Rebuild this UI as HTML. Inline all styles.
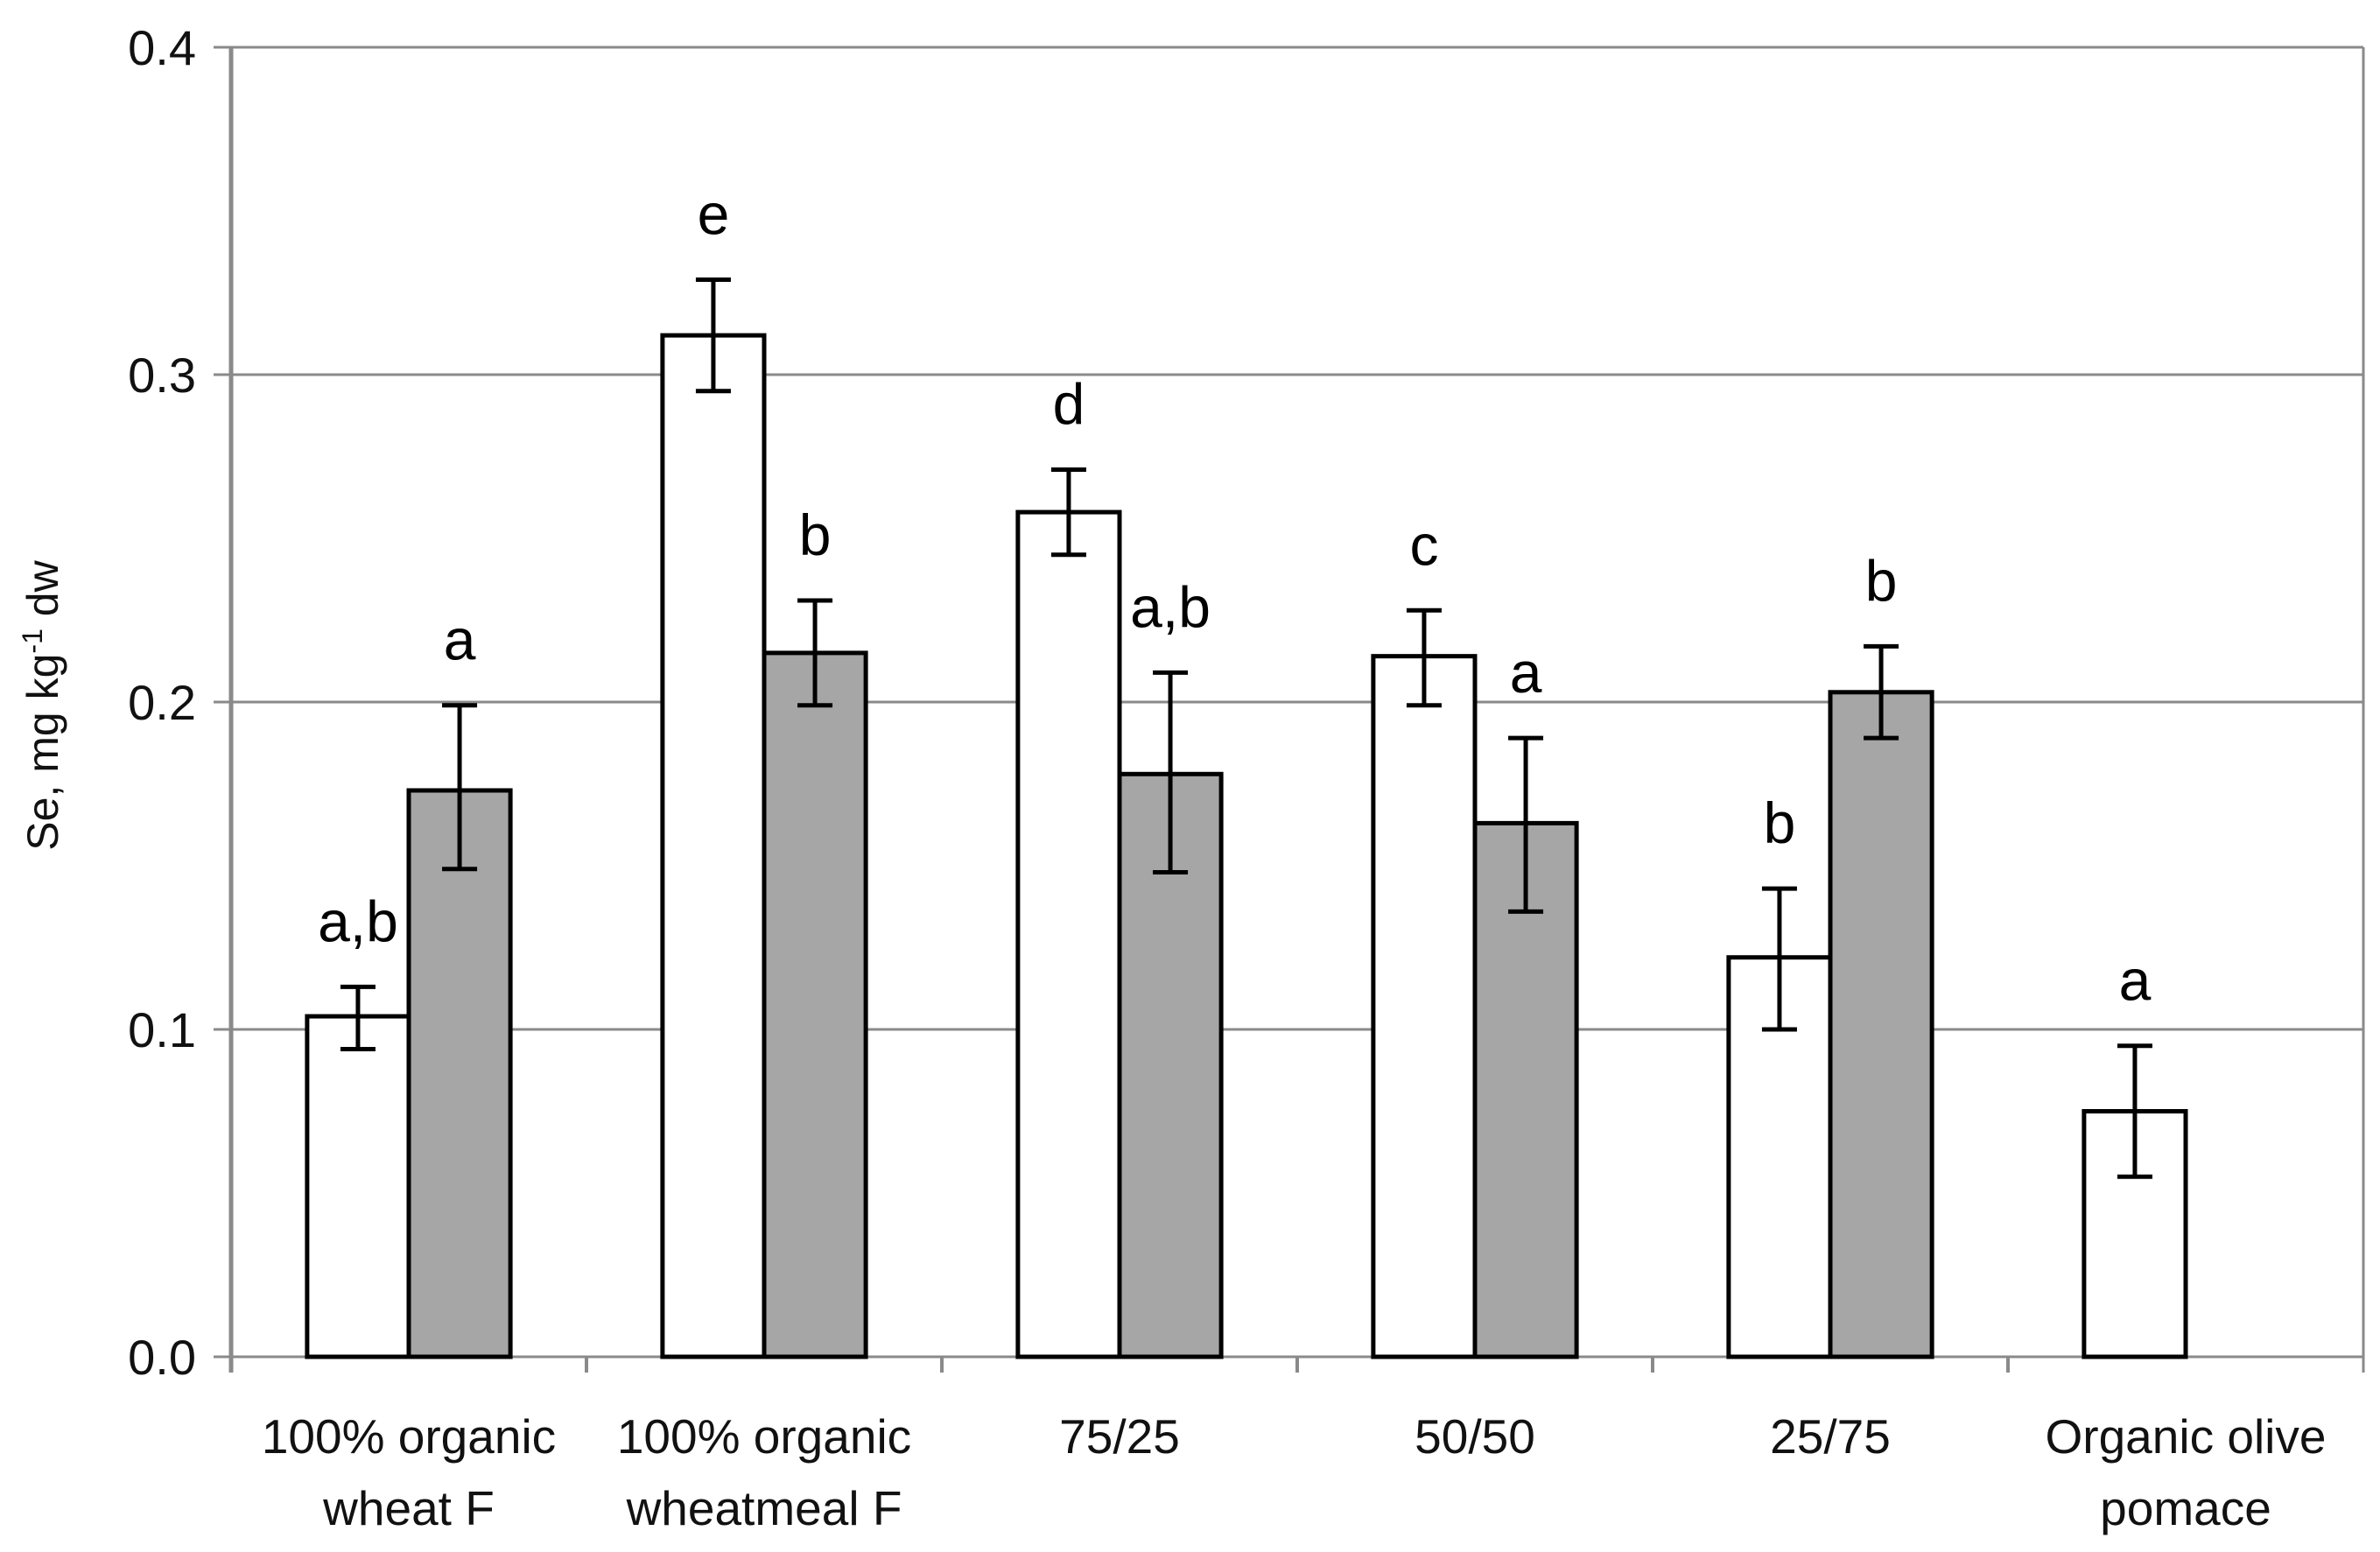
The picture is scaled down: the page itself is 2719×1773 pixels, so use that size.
<!DOCTYPE html>
<html><head><meta charset="utf-8"><style>
html,body{margin:0;padding:0;background:#fff;}
svg{display:block;font-family:"Liberation Sans",sans-serif;}
</style></head><body>
<svg id="chart" width="2719" height="1773" viewBox="0 0 2719 1773"></svg>
<script>
const categories=[["100% organic","wheat F"],["100% organic","wheatmeal F"],["75/25"],["50/50"],["25/75"],["Organic olive","pomace"]];
const whiteVals=[0.104,0.312,0.258,0.214,0.122,0.075];
const whiteLo=[0.094,0.295,0.245,0.199,0.100,0.055];
const whiteHi=[0.113,0.329,0.271,0.228,0.143,0.095];
const whiteLetters=["a,b","e","d","c","b","a"];
const grayVals=[0.173,0.215,0.178,0.163,0.203,null];
const grayLo=[0.149,0.199,0.148,0.136,0.189,null];
const grayHi=[0.199,0.231,0.209,0.189,0.217,null];
const grayLetters=["a","b","a,b","a","b",null];
const yTicks=[0,0.1,0.2,0.3,0.4];
const yTickLabels=["0.0","0.1","0.2","0.3","0.4"];

const svg=document.getElementById('chart');
const NS="http://www.w3.org/2000/svg";
const L=264,R=2700,T=54,B=1550,ymax=0.4;
const catW=(R-L)/categories.length;
const y=v=>B-(v/ymax)*(B-T);
const barW=catW*0.286, off=catW*0.214;
const xBar=(i,s)=>L+i*catW+off+s*barW;
function mk(tag,attrs,parent){const e=document.createElementNS(NS,tag);for(const k in attrs)e.setAttribute(k,attrs[k]);(parent||svg).appendChild(e);return e;}

yTicks.forEach((t,i)=>{
  const g=mk('line',{x1:L-20,x2:R,y1:y(t),y2:y(t),stroke:'#8a8a8a','stroke-width':3});
  
  
  const tx=mk('text',{x:224,y:y(t)+20,'text-anchor':'end','font-size':56,fill:'#111'});
  tx.textContent=yTickLabels[i];
  
  
});
const ya=mk('line',{x1:L,x2:L,y1:T,y2:B+18,stroke:'#8a8a8a','stroke-width':5});


const rb=mk('line',{x1:R,x2:R,y1:T,y2:B+18,stroke:'#8a8a8a','stroke-width':3});


for(let i=1;i<categories.length;i++){
  const tk=mk('line',{x1:L+i*catW,x2:L+i*catW,y1:B,y2:B+18,stroke:'#8a8a8a','stroke-width':4});
  
  
}
categories.forEach((lines,i)=>{
  const cx=L+(i+0.5)*catW;
  lines.forEach((ln,j)=>{
    const t=mk('text',{x:cx,y:1660+j*82,'text-anchor':'middle','font-size':55,fill:'#111'});
    t.textContent=ln;
    
    
  });
});
const yt=mk('text',{x:0,y:0,'text-anchor':'middle','font-size':50,fill:'#111',transform:'translate(66,806) rotate(-90)'});
yt.innerHTML='Se, mg kg<tspan dy="-18" font-size="32">-1</tspan><tspan dy="18"> dw</tspan>';



function drawBar(i,s,v,lo,hi,letter,fill,sname){
  if(v==null)return;
  const x=xBar(i,s);
  const r=mk('rect',{x:x,y:y(v),width:barW,height:B-y(v),fill:fill,stroke:'#000','stroke-width':5});
  
  
  const cx=x+barW/2;
  const eb=mk('path',{d:`M${cx},${y(lo)}V${y(hi)}M${cx-20},${y(lo)}H${cx+20}M${cx-20},${y(hi)}H${cx+20}`,stroke:'#000','stroke-width':5,fill:'none'});
  
  
  const t=mk('text',{x:cx,y:y(hi)-52,'text-anchor':'middle','font-size':66,fill:'#000'});
  t.textContent=letter;
  
  
}
categories.forEach((c,i)=>{
  drawBar(i,0,whiteVals[i],whiteLo[i],whiteHi[i],whiteLetters[i],'#fff','white');
  drawBar(i,1,grayVals[i],grayLo[i],grayHi[i],grayLetters[i],'#a6a6a6','gray');
});
</script>
</body></html>
